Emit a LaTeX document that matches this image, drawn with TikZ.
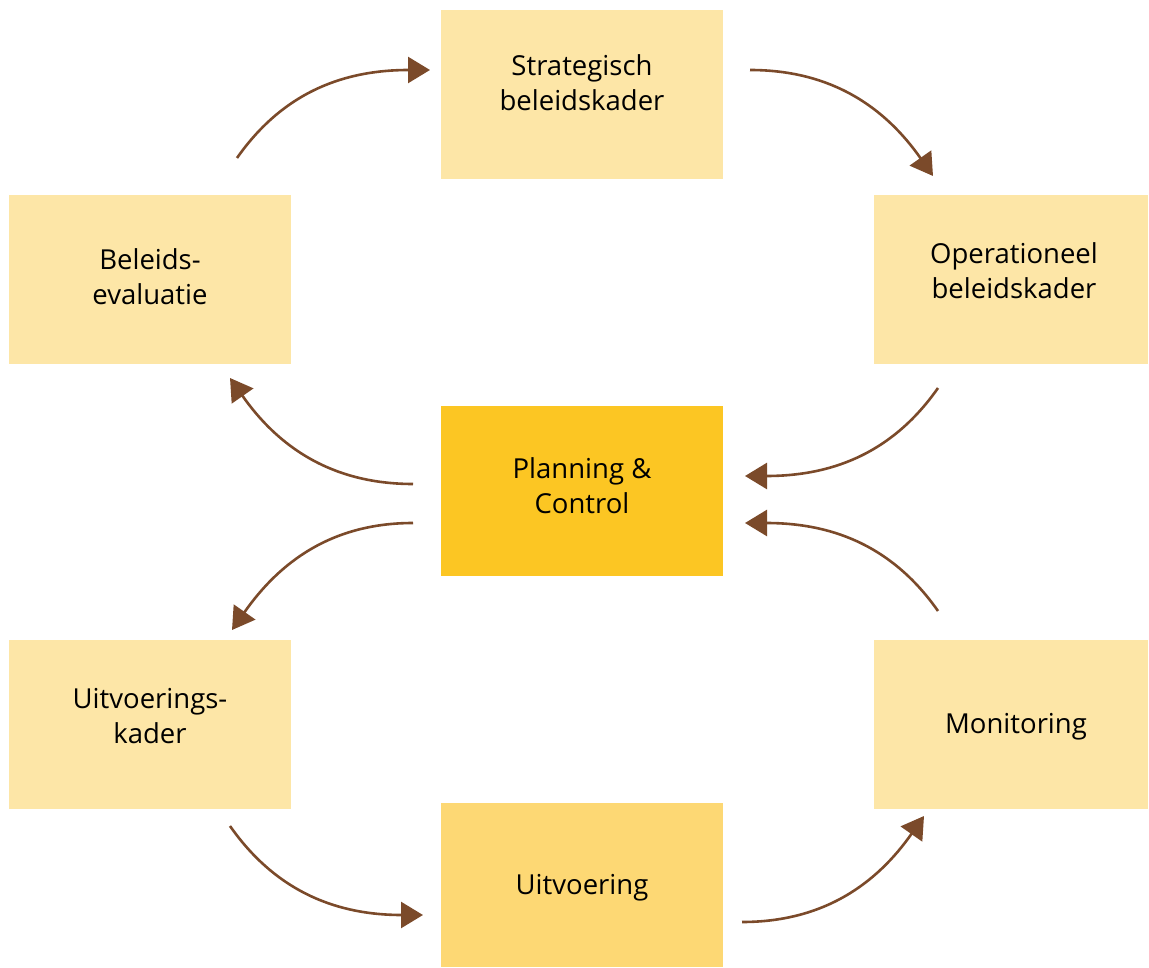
\documentclass[tikz,border=0pt]{standalone}
\usepackage{fontspec}
\setmainfont{Open Sans}
\usetikzlibrary{arrows.meta}
\definecolor{boxlight}{HTML}{FDE6A7}
\definecolor{boxmid}{HTML}{FDD874}
\definecolor{boxdark}{HTML}{FCC623}
\definecolor{arrowbrown}{HTML}{7B4A2A}
\tikzset{
  box/.style={fill=boxlight, draw=none, minimum width=282pt, minimum height=169pt, inner sep=0pt},
  txt/.style={align=center, font=\fontsize{27.5}{35}\selectfont, inner sep=0pt},
  flow/.style={draw=arrowbrown, line width=2.6pt,
    -{Triangle[length=22pt,width=26pt]}, arrowbrown}
}
\begin{document}
\begin{tikzpicture}[x=1pt,y=-1pt]
\useasboundingbox (0,0) rectangle (1149,968);
\node[box] (strat) at (582,94.5) {};
\node[box, minimum width=274pt] (oper) at (1011,279.5) {};
\node[box] (eval) at (150,279.5) {};
\node[box, fill=boxdark, minimum height=170pt] (pc) at (582,491) {};
\node[box] (kader) at (150,724.5) {};
\node[box, minimum width=274pt] (mon) at (1011,724.5) {};
\node[box, fill=boxmid, minimum height=164pt] (uitv) at (582,885) {};

\node[txt] (stratT) at ([yshift=12pt]strat.center) {Strategisch\\beleidskader};
\node[txt] (operT) at ([yshift=9pt,xshift=3pt]oper.center) {Operationeel\\beleidskader};
\node[txt] (evalT) at ([yshift=3pt]eval.center) {Beleids-\\evaluatie};
\node[txt] (pcT) at ([yshift=5pt]pc.center) {Planning \&\\Control};
\node[txt] (kaderT) at ([yshift=8pt]kader.center) {Uitvoerings-\\kader};
\node[txt] (monT) at ([yshift=-2pt,xshift=5pt]mon.center) {Monitoring};
\node[txt] (uitvT) at ([yshift=-3pt]uitv.center) {Uitvoering};

\coordinate (a1s) at (237,158); \coordinate (a1e) at (430,70);
\coordinate (a2s) at (750,70);  \coordinate (a2e) at (933,176);
\coordinate (a3s) at (938,388); \coordinate (a3e) at (745,476);
\coordinate (a4s) at (413,484); \coordinate (a4e) at (230,378);
\coordinate (a5s) at (413,523); \coordinate (a5e) at (232,630);
\coordinate (a6s) at (230,826); \coordinate (a6e) at (423,915);
\coordinate (a7s) at (742,922); \coordinate (a7e) at (924,816);
\coordinate (a8s) at (938,611); \coordinate (a8e) at (745,523);

\draw[flow] (a1s) to[out=55,in=180] (a1e);
\draw[flow] (a2s) to[out=0,in=125] (a2e);
\draw[flow] (a3s) to[out=-125,in=0] (a3e);
\draw[flow] (a4s) to[out=180,in=-55] (a4e);
\draw[flow] (a5s) to[out=180,in=55] (a5e);
\draw[flow] (a6s) to[out=-55,in=180] (a6e);
\draw[flow] (a7s) to[out=0,in=-125] (a7e);
\draw[flow] (a8s) to[out=125,in=0] (a8e);
\end{tikzpicture}
\end{document}
